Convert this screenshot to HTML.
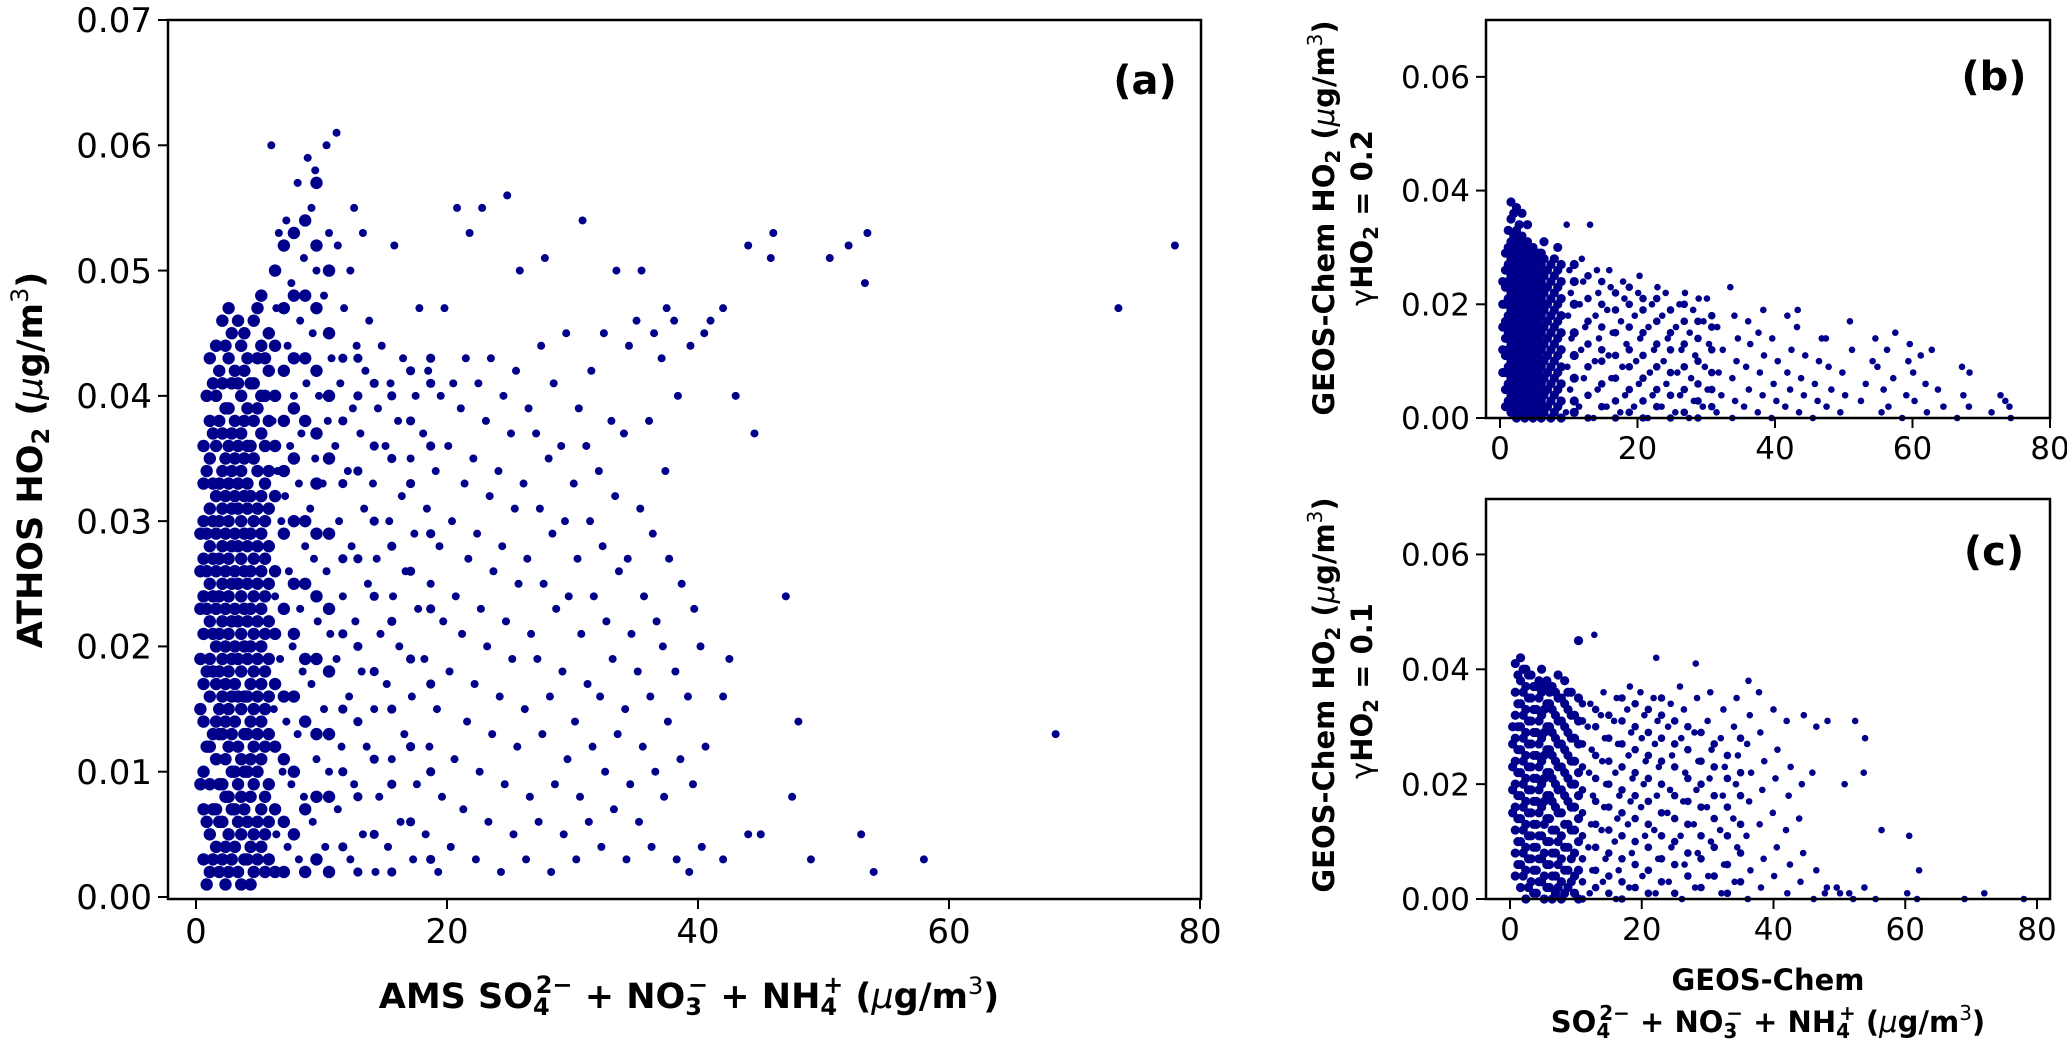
<!DOCTYPE html>
<html><head><meta charset="utf-8"><title>HO2 vs aerosol scatter</title>
<style>
html,body{margin:0;padding:0;background:#fff;}
svg{display:block;font-family:"DejaVu Sans","Liberation Sans",sans-serif;}
</style></head>
<body>
<svg id="fig" width="2067" height="1042" viewBox="0 0 2067 1042" xmlns="http://www.w3.org/2000/svg"></svg>
<script>
// ---------- DATA (y values in units of 0.001 µg/m3) ----------
// Panel (a): ATHOS HO2 vs AMS inorganic aerosol
const aCoreX = [0.6,1.1,1.6,2.1,2.6,3.1,3.6,4.1,4.6,5.2,5.8];
const aCoreY = [
 [3,7,10,14,17,21,24,27,30,33,36],
 [2,5,9,12,16,19,22,25,28,31,35,38,43],
 [4,7,11,14,17,20,23,26,29,32,36,40,44],
 [3,6,9,13,16,19,22,25,28,31,34,37,41,46],
 [2,5,8,12,15,18,21,24,27,30,33,36,39,43,47],
 [4,7,10,14,17,20,23,26,29,32,35,38,42],
 [1,5,8,11,15,18,21,24,27,30,34,37,40,44],
 [3,6,10,13,16,19,22,25,28,31,33,36,39,43],
 [2,5,9,12,15,18,21,24,27,30,35,38,41,46],
 [4,7,11,14,17,20,23,26,29,32,37,40,44,48],
 [3,6,9,13,16,19,22,25,28,31,34,38,42,45]
];
const aCoreX2 = [0.35,0.85,1.35,1.85,2.35,2.85,3.35,3.85,4.35,4.9,5.5,6.3,7.0,7.8,8.7,9.6,10.6,11.7,12.9,14.2,15.6,17.1,18.7];
const aCoreY2 = [
 [9,15,19,23,26,29],
 [1,6,12,18,23,26,29,34,40],
 [3,7,13,18,21,24,27,30,33,37,41],
 [2,6,9,13,15,18,21,24,27,30,33,38,42],
 [1,4,8,11,14,17,20,23,26,29,32,35,39,44],
 [3,7,10,13,16,19,22,25,28,31,34,37,41,45],
 [2,6,9,12,16,19,22,25,28,31,33,36,41,46],
 [3,7,10,13,16,20,23,26,29,32,35,38,42,45],
 [1,4,8,11,14,17,20,23,26,29,32,36,41],
 [3,6,10,13,16,19,22,25,28,31,34,39,43,47],
 [2,5,8,12,15,18,21,24,27,30,33,36,40,43],
 [2,7,12,17,21,26,32,36,40,44,50],
 [2,6,11,16,23,29,34,38,42,47,52],
 [5,10,16,21,25,30,35,39,43,48,53],
 [2,7,14,19,25,30,38,43,48,54],
 [3,8,13,19,24,29,33,37,42,47,52,57],
 [2,8,13,18,23,29,35,40,45,50],
 [4,10,15,21,27,33,38,43],
 [2,8,14,20,27,34,40,43],
 [5,11,18,24,30,36,41],
 [2,9,15,22,28,35,40],
 [6,12,19,26,33,38,42],
 [3,10,17,23,29,36,41,43]
];
const aPts = [
 [6.4,5],[6.9,10],[6.2,15],[6.7,19],[6.3,24],[6.8,30],[6.5,34],[6.1,38],[6.9,42],[6.4,47],[6.6,53],[6.0,60],
 [7.3,4],[7.6,9],[7.2,14],[7.7,20],[7.4,26],[7.1,32],[7.5,36],[7.8,40],[7.3,44],[7.6,49],[7.2,54],
 [8.2,3],[8.6,8],[8.1,13],[8.5,18],[8.3,23],[8.7,28],[8.2,33],[8.4,37],[8.8,41],[8.3,46],[8.6,51],[8.1,57],[8.9,59],
 [9.3,6],[9.6,11],[9.2,17],[9.7,22],[9.4,27],[9.1,31],[9.5,35],[9.8,40],[9.3,45],[9.6,50],[9.2,55],[9.5,58],
 [10.3,4],[10.6,10],[10.2,15],[10.7,21],[10.4,26],[10.1,33],[10.5,38],[10.8,43],[10.2,48],[10.6,53],[10.4,60],
 [11.3,7],[11.6,12],[11.2,19],[11.7,24],[11.4,30],[11.1,36],[11.5,41],[11.8,47],[11.3,52],[11.2,61],
 [12.3,3],[12.6,9],[12.2,16],[12.7,22],[12.4,28],[12.1,34],[12.5,39],[12.8,44],[12.3,50],[12.6,55],
 [13.3,5],[13.6,12],[13.2,18],[13.7,25],[13.4,31],[13.1,37],[13.5,42],[13.8,46],[13.3,53],
 [14.3,2],[14.6,8],[14.2,15],[14.7,21],[14.4,27],[14.1,33],[14.5,39],[14.8,44],
 [15.3,4],[15.6,11],[15.2,17],[15.7,24],[15.4,30],[15.1,36],[15.5,41],[15.8,52],
 [16.3,6],[16.6,13],[16.2,20],[16.7,26],[16.4,32],[16.1,38],[16.5,43],
 [17.3,3],[17.6,9],[17.2,16],[17.7,23],[17.4,29],[17.1,35],[17.5,40],[17.8,47],
 [18.3,5],[18.6,12],[18.2,19],[18.7,25],[18.4,31],[18.1,37],[18.5,42],
 [19.3,2],[19.6,8],[19.2,15],[19.7,22],[19.4,28],[19.1,34],[19.5,40],[19.8,47],
 [20.3,4],[20.6,11],[20.2,18],[20.7,24],[20.4,30],[20.1,36],[20.5,41],[20.8,55],
 [21.3,7],[21.6,14],[21.2,21],[21.7,27],[21.4,33],[21.1,39],[21.5,43],[21.8,53],
 [22.3,3],[22.6,10],[22.2,17],[22.7,23],[22.4,29],[22.1,35],[22.5,41],[22.8,55],
 [23.3,6],[23.6,13],[23.2,20],[23.7,26],[23.4,32],[23.1,38],[23.5,43],
 [24.3,2],[24.6,9],[24.2,16],[24.7,22],[24.4,28],[24.1,34],[24.5,40],[24.8,56],
 [25.3,5],[25.6,12],[25.2,19],[25.7,25],[25.4,31],[25.1,37],[25.5,42],[25.8,50],
 [26.3,3],[26.6,8],[26.2,15],[26.7,21],[26.4,27],[26.1,33],[26.5,39],
 [27.3,6],[27.6,13],[27.2,19],[27.7,25],[27.4,31],[27.1,37],[27.5,44],[27.8,51],
 [28.3,2],[28.6,9],[28.2,16],[28.7,23],[28.4,29],[28.1,35],[28.5,41],
 [29.3,5],[29.6,11],[29.2,18],[29.7,24],[29.4,30],[29.1,36],[29.5,45],
 [30.3,3],[30.6,8],[30.2,14],[30.7,21],[30.4,27],[30.1,33],[30.5,39],[30.8,54],
 [31.3,6],[31.6,12],[31.2,17],[31.7,24],[31.4,30],[31.1,36],[31.5,42],
 [32.3,4],[32.6,10],[32.2,16],[32.7,22],[32.4,28],[32.1,34],[32.5,45],
 [33.3,7],[33.6,13],[33.2,19],[33.7,26],[33.4,32],[33.1,38],[33.5,50],
 [34.3,3],[34.6,9],[34.2,15],[34.7,21],[34.4,27],[34.1,37],[34.5,44],
 [35.3,6],[35.6,12],[35.2,18],[35.7,24],[35.4,31],[35.1,46],[35.5,50],
 [36.3,4],[36.6,10],[36.2,16],[36.7,22],[36.4,29],[36.1,38],[36.5,45],
 [37.3,8],[37.6,14],[37.2,20],[37.7,27],[37.4,34],[37.1,43],[37.5,47],
 [38.3,3],[38.6,11],[38.2,18],[38.7,25],[38.4,40],[38.1,46],
 [39.3,2],[39.6,9],[39.2,16],[39.7,23],[39.4,44],
 [40.3,4],[40.6,12],[40.2,20],[40.5,45],
 [78,52],[73.5,47],[68.5,13],[58,3],[53.5,53],[53.3,49],[52,52],[50.5,51],[54,2],[53,5],[49,3],[47.5,8],
 [48,14],[46,53],[45.8,51],[44,52],[42,47],[41,46],[47,24],[44.5,37],[43,40],[42,16],[42.5,19],[44,5],[42,3],[45,5]
];
// Panel (b): GEOS-Chem gamma=0.2
const bCoreX = [0.8,1.6,2.4,3.2,4.0,4.8,5.6,6.4,7.4,8.4];
const bCoreY = [
 [2,5,8,11,14,17,20,23,26,29],
 [1,4,7,10,13,16,19,22,25,28,31,35,38],
 [0,3,6,9,12,15,18,21,24,27,30,33,37],
 [2,5,8,11,14,17,20,23,26,29,32,36],
 [1,4,7,10,13,16,19,22,25,28,31,34],
 [0,3,6,9,12,15,18,21,24,27,30],
 [2,5,8,11,14,17,20,23,26,29],
 [1,4,7,10,13,16,19,22,25,28,31],
 [0,3,6,9,12,15,18,21,24,27],
 [2,5,8,11,14,17,20,23,26,30]
];
const bCoreX2 = [0.4,1.2,2.0,2.8,3.6,4.4,5.2,6.0,6.9,7.9,8.9,10.8,12.8,14.8,16.8,18.8,20.8,22.8,24.8,26.8,28.8,30.8];
const bCoreY2 = [
 [8,12,16,20,24],
 [3,6,9,12,15,18,21,24,27,30,33],
 [2,5,8,11,14,17,20,23,26,29,32,36],
 [1,4,7,10,13,16,19,22,25,28,31,34],
 [0,3,6,9,12,15,18,21,24,27,30],
 [2,5,8,11,14,17,20,23,26,29],
 [1,4,7,10,13,16,19,22,25,28],
 [0,3,6,9,12,15,18,21,24,27,29],
 [2,5,8,11,14,17,20,23,26],
 [1,4,7,10,13,16,19,22,25,28],
 [0,3,6,9,12,15,18,21,24,27],
 [1,3,7,11,15,20,24,27],
 [0,4,9,13,17,21,25],
 [2,6,10,12,16,20,24],
 [0,3,7,11,15,19,22],
 [1,5,9,12,16,20,23],
 [0,3,7,11,15,19,21],
 [2,5,9,13,17,21],
 [0,4,8,12,15,19],
 [1,5,9,13,17,20],
 [0,3,6,10,14,17],
 [2,5,8,12,16,18]
];
const bPts = [
 [9.6,1],[10.2,5],[9.8,9],[10.4,14],[9.9,18],[10.3,22],[10.1,26],[9.7,34],
 [11.5,2],[12.2,7],[11.8,12],[12.4,16],[11.6,20],[12.1,24],[11.9,28],[13.1,34],
 [13.6,0],[14.2,5],[13.8,10],[14.4,14],[13.9,18],[14.3,22],[14.1,26],
 [15.5,2],[16.2,7],[15.8,11],[16.4,15],[15.6,19],[16.1,23],[15.9,26],
 [17.5,1],[18.2,4],[17.8,9],[18.4,13],[17.6,17],[18.1,21],[17.9,24],
 [19.5,2],[20.2,6],[19.8,10],[20.4,14],[19.6,18],[20.1,22],[20.3,25],
 [21.5,0],[22.2,4],[21.8,8],[22.4,12],[21.6,16],[22.1,20],[22.9,23],
 [23.5,2],[24.2,6],[23.8,10],[24.4,14],[23.6,18],[24.1,22],
 [25.5,1],[26.2,4],[25.8,8],[26.4,12],[25.6,16],[26.1,20],[26.9,22],
 [27.5,0],[28.2,3],[27.8,7],[28.4,11],[27.6,15],[28.1,19],[28.9,21],
 [29.5,2],[30.2,5],[29.8,9],[30.4,13],[29.6,17],[30.1,21],
 [31.5,1],[32.2,4],[31.8,8],[32.4,12],[31.6,16],[33.5,23],
 [33.8,0],[34.2,3],[33.8,7],[34.4,10],[34.6,14],[34.1,18],
 [35.5,2],[36.2,5],[35.8,9],[36.4,13],[36.1,17],
 [37.5,1],[38.2,4],[37.8,8],[38.4,11],[37.6,15],[38.3,19],
 [39.5,0],[40.2,3],[39.8,6],[40.4,10],[39.6,14],[41.8,18],
 [41.5,2],[42.2,5],[41.8,8],[42.4,12],[43.2,16],
 [43.5,1],[44.2,4],[43.8,7],[44.4,11],[43.3,19],
 [45.5,0],[46.2,3],[45.8,6],[46.4,10],[46.8,14],
 [47.5,2],[48.2,5],[47.8,9],[47.4,14],
 [49.5,1],[50.2,4],[49.8,8],[50.9,17],[51.2,12],
 [52.5,3],[53.2,6],[54.2,10],[54.6,14],
 [55.5,1],[55.8,5],[54.9,9],
 [56.5,2],[57.2,7],[57.5,15],[56.3,12],
 [58.5,0],[59.1,4],[59.4,10],
 [60.3,3],[60.1,8],[59.6,13],
 [62.1,1],[61.9,6],[61.2,11],
 [64.5,2],[63.7,5],[62.8,12],
 [66.5,0],[67.4,4],[67.2,9],
 [68.2,2],[68.3,8],
 [71.5,1],[72.8,4],
 [73.5,3],[74.3,0],
 [74.1,2]
];
// Panel (c): GEOS-Chem gamma=0.1
const cCoreX = [0.8,1.6,2.4,3.2,4.0,4.8,5.6,6.4,7.3,8.3,9.3,10.4];
const cCoreY = [
 [4,8,12,16,20,24,28,32,36,41],
 [2,6,10,14,18,22,26,30,34,38,42],
 [0,5,9,13,17,21,25,29,33,37,40],
 [3,7,11,15,19,23,27,31,35,39],
 [1,5,9,13,17,21,25,29,33,37],
 [3,7,11,16,20,24,28,32,36,40],
 [2,6,10,14,18,22,26,30,34,38],
 [0,4,8,12,17,21,25,29,33,37],
 [2,6,10,15,19,23,27,31,35,39],
 [1,5,9,13,18,22,26,30,34,38],
 [3,7,12,16,20,24,28,32,36],
 [0,5,10,14,18,22,27,31,35,45]
];
const cCoreX2 = [0.4,1.2,2.0,2.8,3.6,4.4,5.2,6.0,6.9,7.8,8.8,9.8,11.0,13.0,15.0,17.0,19.0,21.0,23.0,25.0,27.0,29.0,31,33,35];
const cCoreY2 = [
 [15,19,23,27,30],
 [6,10,14,18,22,26,30,34,39],
 [4,8,12,16,20,24,28,32,36,40],
 [2,7,11,15,19,23,27,31,35,39],
 [1,5,9,13,17,21,25,29,33,37],
 [3,7,11,15,19,23,27,31,35,38],
 [0,4,8,13,17,21,25,29,33,37],
 [2,6,10,14,18,22,26,30,34,36],
 [1,4,8,12,16,20,24,28,32,36],
 [0,3,7,11,15,19,23,27,31,35],
 [2,5,9,13,17,21,25,29,33,36],
 [1,4,8,12,16,20,24,28,32],
 [0,3,7,11,15,19,23,27,31,34],
 [2,5,9,13,17,21,25,30,33],
 [1,4,8,12,16,20,24,28,32],
 [0,3,7,11,15,19,23,27,31,35],
 [2,6,10,14,18,22,26,30,34],
 [1,5,9,13,17,21,25,29,33],
 [3,7,11,15,20,24,28,32,35],
 [1,6,10,14,18,23,27,31],
 [4,8,13,17,21,26,30],
 [2,7,11,16,20,24,29],
 [4,9,14,18,23,27],
 [1,6,11,16,21,25],
 [3,8,13,18,22,28]
];
const cPts = [
 [12.1,1],[12.5,5],[11.9,9],[12.3,13],[12.6,18],[12.0,22],[12.4,26],[11.8,30],[12.2,34],[12.8,46],
 [14.1,3],[14.5,7],[13.9,12],[14.3,16],[14.6,20],[14.0,24],[14.4,28],[13.8,32],[14.2,36],
 [16.1,0],[16.5,5],[15.9,10],[16.3,14],[16.6,18],[16.0,22],[16.4,27],[15.8,31],[16.2,35],
 [18.1,2],[18.5,8],[17.9,13],[18.3,17],[18.6,21],[18.0,25],[18.4,29],[17.8,33],[18.2,37],
 [20.1,4],[20.5,11],[19.9,16],[20.3,20],[20.6,24],[20.0,28],[20.4,32],[19.8,36],
 [22.1,1],[22.5,7],[21.9,12],[22.3,18],[22.6,23],[22.0,27],[22.4,31],[21.8,35],[22.2,42],
 [24.1,3],[24.5,9],[23.9,15],[24.3,19],[24.6,25],[24.0,30],[24.4,34],
 [26.1,0],[26.5,6],[25.9,11],[26.3,17],[26.6,22],[26.0,28],[26.4,33],[25.8,37],
 [28.1,2],[28.5,8],[27.9,13],[28.3,19],[28.6,24],[28.0,29],[28.4,35],[28.2,41],
 [30.1,4],[30.5,10],[29.9,16],[30.3,21],[30.6,26],[30.0,31],[30.4,36],
 [32.1,1],[32.5,6],[31.9,12],[32.3,18],[32.6,23],[32.0,28],[32.4,33],
 [34.1,3],[34.5,9],[33.9,14],[34.3,20],[34.6,25],[34.0,30],[34.4,35],
 [36.1,0],[36.5,5],[35.9,11],[36.3,17],[36.6,22],[36.0,27],[36.4,32],[36.2,38],
 [38.1,2],[38.5,7],[37.9,13],[38.3,19],[38.6,24],[38.0,29],[37.8,36],
 [40.1,4],[40.5,9],[39.9,15],[40.3,21],[40.6,26],[40.0,33],
 [42.1,1],[42.5,6],[41.9,12],[42.3,18],[42.6,23],[42.0,31],
 [44.1,3],[44.5,8],[43.9,14],[44.3,20],[44.6,32],
 [46.1,0],[46.5,5],[45.9,22],[46.5,30],
 [48.1,2],[47.8,1],[48.2,31],
 [50.1,1],[49.6,2],[50.8,20],
 [52.1,0],[51.5,1],[52.4,31],
 [53.8,2],[53.7,22],[53.9,28],
 [55.5,0],[56.4,12],
 [60.3,1],[60.6,11],
 [62.1,5],[61.8,0],
 [69,0],[72,1],[78,0]
];
// Axis tick values
const aXTicks = [0,20,40,60,80];
const aYTicks = [0,0.01,0.02,0.03,0.04,0.05,0.06,0.07];
const bcXTicks = [0,20,40,60,80];
const bcYTicks = [0,0.02,0.04,0.06];

// ---------- RENDER ----------
const NS = "http://www.w3.org/2000/svg";
const svg = document.getElementById('fig');
function mk(tag, attrs, parent){
  const e = document.createElementNS(NS, tag);
  for (const k in attrs) e.setAttribute(k, attrs[k]);
  (parent||svg).appendChild(e);
  return e;
}
const DOT = '#00008b';

function panel(cfg){
  const g = mk('g', {});
  
  
  const sx = v => cfg.x0 + v * (cfg.x80 - cfg.x0) / 80;
  const sy = v => cfg.y0 - v * (cfg.y0 - cfg.y7) / 0.07;
  const pg = mk('g', {fill: DOT}, g);
  
  
  function dot(x, ym, r){
    const c = mk('circle', {cx: sx(x), cy: sy(ym/1000), r: r}, pg);
    
    
  }
  cfg.coreX.forEach((x, i) => cfg.coreY[i].forEach(ym => dot(x, ym, cfg.rCore)));
  cfg.coreX2.forEach((x, i) => cfg.coreY2[i].forEach(ym => dot(x, ym, x < 11 ? cfg.rCore : cfg.rMid)));
  cfg.pts.forEach(p => dot(p[0], p[1], cfg.r));
  const fr = mk('rect', {x: cfg.L, y: cfg.T, width: cfg.R - cfg.L, height: cfg.B - cfg.T, fill: 'none', stroke: '#000', 'stroke-width': 2.5}, g);
  
  
  cfg.xTicks.forEach(t => {
    const X = sx(t);
    mk('line', {x1: X, x2: X, y1: cfg.B, y2: cfg.B + 10, stroke: '#000', 'stroke-width': 2}, g);
    const tx = mk('text', {x: X, y: cfg.B + cfg.fs + 10, 'text-anchor': 'middle', 'font-size': cfg.fs}, g);
    tx.textContent = String(t);
    
    
  });
  cfg.yTicks.forEach(t => {
    const Y = sy(t);
    mk('line', {x1: cfg.L - 10, x2: cfg.L, y1: Y, y2: Y, stroke: '#000', 'stroke-width': 2}, g);
    const tx = mk('text', {x: cfg.L - 16, y: Y + cfg.fs * 0.36, 'text-anchor': 'end', 'font-size': cfg.fs}, g);
    tx.textContent = t.toFixed(2);
    
    
  });
  const lt = mk('text', {x: cfg.R - 56, y: cfg.T + cfg.letterDy, 'text-anchor': 'middle', 'font-size': cfg.letterFs, 'font-weight': 'bold'}, g);
  lt.textContent = cfg.letter;
  
  
}

panel({name:'panel-a', L:168, R:1201, T:20, B:899, x0:196, x80:1200, y0:897, y7:20,
  coreX:aCoreX, coreY:aCoreY, coreX2:aCoreX2, coreY2:aCoreY2, pts:aPts, xTicks:aXTicks, yTicks:aYTicks, fs:34,
  r:4.0, rCore:6.2, rMid:4.6, letter:'(a)', letterFs:40, letterDy:74});
panel({name:'panel-b', L:1486, R:2050, T:20, B:418, x0:1500, x80:2050, y0:418, y7:20,
  coreX:bCoreX, coreY:bCoreY, coreX2:bCoreX2, coreY2:bCoreY2, pts:bPts, xTicks:bcXTicks, yTicks:bcYTicks, fs:31,
  r:3.3, rCore:4.6, rMid:3.8, letter:'(b)', letterFs:40, letterDy:70});
panel({name:'panel-c', L:1486, R:2050, T:499, B:899, x0:1510, x80:2037, y0:899, y7:497,
  coreX:cCoreX, coreY:cCoreY, coreX2:cCoreX2, coreY2:cCoreY2, pts:cPts, xTicks:bcXTicks, yTicks:bcYTicks, fs:31,
  r:3.3, rCore:4.6, rMid:3.8, letter:'(c)', letterFs:40, letterDy:66});
</script>
<svg style="position:absolute;left:0;top:0" width="2067" height="1042" xmlns="http://www.w3.org/2000/svg" font-family="DejaVu Sans, Liberation Sans, sans-serif" font-weight="bold">
  <text transform="translate(42,460) rotate(-90)" text-anchor="middle" font-size="35">ATHOS HO<tspan font-size="24" dy="7">2</tspan><tspan dy="-7"> (</tspan><tspan font-style="italic" font-weight="normal">μ</tspan>g/m<tspan font-size="24" font-weight="normal" dy="-14">3</tspan><tspan dy="14">)</tspan></text>
  <text x="689" y="1008" text-anchor="middle" font-size="35">AMS SO<tspan font-size="24" dy="7">4</tspan><tspan font-size="24" dx="-14" dy="-22">2−</tspan><tspan dy="15"> + NO</tspan><tspan font-size="24" dy="7">3</tspan><tspan font-size="24" dx="-14" dy="-22">−</tspan><tspan dy="15"> + NH</tspan><tspan font-size="24" dy="7">4</tspan><tspan font-size="24" dx="-14" dy="-22">+</tspan><tspan dy="15"> (</tspan><tspan font-style="italic" font-weight="normal">μ</tspan>g/m<tspan font-size="24" font-weight="normal" dy="-14">3</tspan><tspan dy="14">)</tspan></text>
  <text transform="translate(1334,218) rotate(-90)" text-anchor="middle" font-size="29">GEOS-Chem HO<tspan font-size="20" dy="6">2</tspan><tspan dy="-6"> (</tspan><tspan font-style="italic" font-weight="normal">μ</tspan>g/m<tspan font-size="20" font-weight="normal" dy="-12">3</tspan><tspan dy="12">)</tspan></text>
  <text transform="translate(1372,218) rotate(-90)" text-anchor="middle" font-size="29"><tspan font-weight="normal">γ</tspan>HO<tspan font-size="20" dy="6">2</tspan><tspan dy="-6"> = 0.2</tspan></text>
  <text transform="translate(1334,695) rotate(-90)" text-anchor="middle" font-size="29">GEOS-Chem HO<tspan font-size="20" dy="6">2</tspan><tspan dy="-6"> (</tspan><tspan font-style="italic" font-weight="normal">μ</tspan>g/m<tspan font-size="20" font-weight="normal" dy="-12">3</tspan><tspan dy="12">)</tspan></text>
  <text transform="translate(1372,691) rotate(-90)" text-anchor="middle" font-size="29"><tspan font-weight="normal">γ</tspan>HO<tspan font-size="20" dy="6">2</tspan><tspan dy="-6"> = 0.1</tspan></text>
  <text x="1768" y="990" text-anchor="middle" font-size="29">GEOS-Chem</text>
  <text x="1768" y="1032" text-anchor="middle" font-size="29">SO<tspan font-size="20" dy="6">4</tspan><tspan font-size="20" dx="-11" dy="-18">2−</tspan><tspan dy="12"> + NO</tspan><tspan font-size="20" dy="6">3</tspan><tspan font-size="20" dx="-11" dy="-18">−</tspan><tspan dy="12"> + NH</tspan><tspan font-size="20" dy="6">4</tspan><tspan font-size="20" dx="-11" dy="-18">+</tspan><tspan dy="12"> (</tspan><tspan font-style="italic" font-weight="normal">μ</tspan>g/m<tspan font-size="20" font-weight="normal" dy="-12">3</tspan><tspan dy="12">)</tspan></text>
</svg>
</body></html>
